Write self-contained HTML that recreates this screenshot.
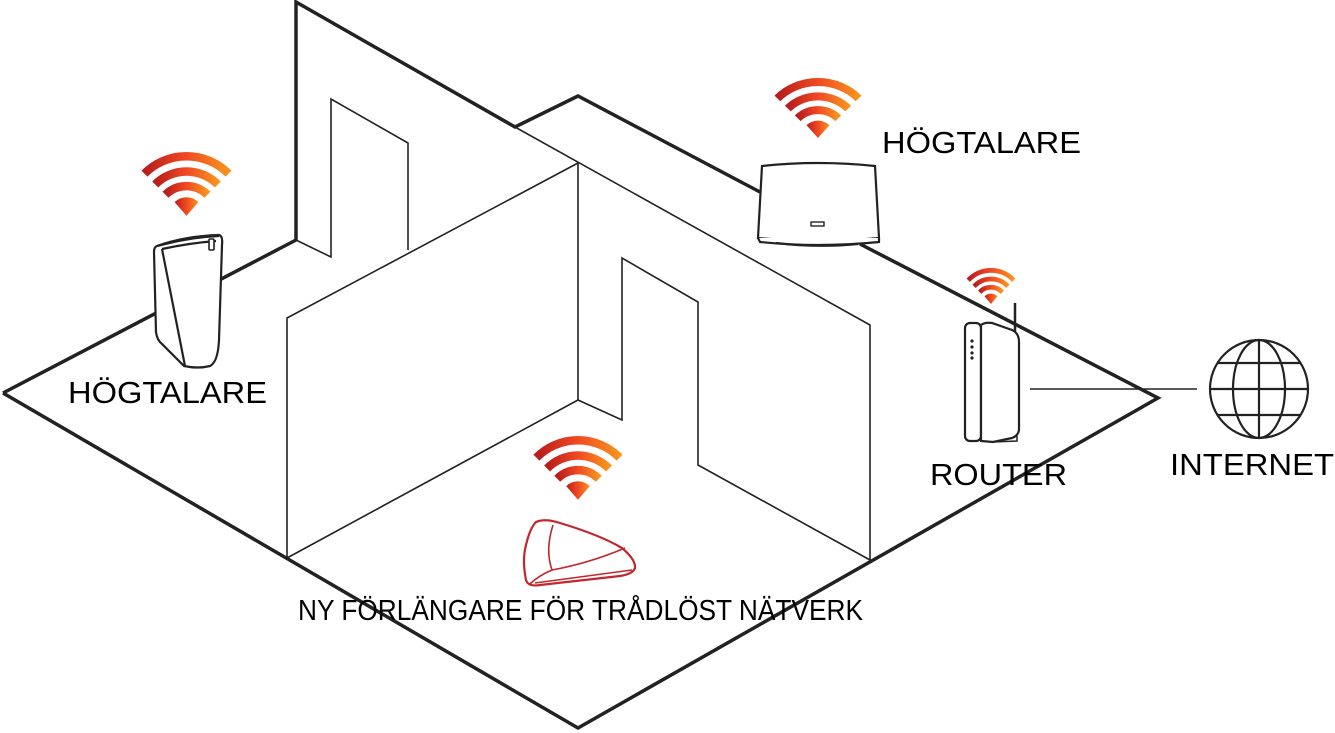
<!DOCTYPE html>
<html><head><meta charset="utf-8"><style>
html,body{margin:0;padding:0;background:#fff;}
svg{display:block;}
text{font-family:"Liberation Sans",sans-serif;fill:#000;}
</style></head><body>
<svg width="1335" height="733" viewBox="0 0 1335 733" xmlns="http://www.w3.org/2000/svg">
<defs>
<linearGradient id="wg" x1="0" y1="0" x2="1" y2="0">
<stop offset="0" stop-color="#b81c1c"/><stop offset="0.5" stop-color="#f04a23"/><stop offset="1" stop-color="#f7941e"/>
</linearGradient>
<g id="wifi">
<path d="M50 75 L36 59 A20 20 0 0 1 64 59 Z" fill="url(#wg)"/>
<path d="M25.3 50.3 A35 35 0 0 1 74.7 50.3" fill="none" stroke="url(#wg)" stroke-width="10"/>
<path d="M13.2 38.2 A52 52 0 0 1 86.8 38.2" fill="none" stroke="url(#wg)" stroke-width="10"/>
<path d="M0.5 25.5 A70 70 0 0 1 99.5 25.5" fill="none" stroke="url(#wg)" stroke-width="10"/>
</g>
</defs>

<!-- thick outlines -->
<g fill="none" stroke="#222" stroke-width="3.5" stroke-linejoin="miter">
<polyline points="3,393 296,240"/>
<polyline points="3,393 578,728 1158,398 860,244"/>
<polyline points="296,240 296,2 515,127 578,96 760,192"/>
</g>
<!-- thin lines -->
<g fill="none" stroke="#222" stroke-width="1.6">
<polyline points="296,240 331,257 331,99 408,143 408,250"/>
<polyline points="515,127 870,325 870,560"/>
<polyline points="287,558 287,318 578,163 578,400 287,558"/>
<polyline points="578,400 622,420 622,258 698,302 698,465 870,560"/>
<line x1="1030" y1="389" x2="1197" y2="389"/>
</g>

<!-- left speaker -->
<g fill="#fff" stroke="#222" stroke-width="2.2">
<path d="M157 246 Q185 236 219 235 Q223 236 222 245 L219 340 Q218 362 210 366 Q198 369 184 366 L162 344 Q157 340 156 332 L154 252 Q154 247 157 246 Z"/>
<path d="M157 246 L165 244 Q193 237 219 236" fill="none"/>
<path d="M162 249 L185 366" fill="none"/>
<path d="M162 249 Q190 243 216 241" fill="none"/>
<rect x="209" y="239" width="5" height="11" rx="1" stroke-width="1.6"/>
</g>

<!-- top speaker -->
<g fill="#fff" stroke="#222" stroke-width="2.2">
<path d="M762 166 Q818 160 875 166 L879 238 Q818 244 758 238 Z"/>
<path d="M758 238 L760 242 Q818 248 879 242 L879 238" />
<path d="M776 243 Q818 248 858 244" fill="none"/>
<rect x="811" y="222" width="13" height="4" stroke-width="1.4"/>
</g>

<!-- router -->
<g fill="#fff" stroke="#222" stroke-width="2.2">
<line x1="1015" y1="303" x2="1015" y2="333" stroke-width="2.5"/>
<rect x="965" y="323" width="16" height="118" rx="5"/>
<path d="M981 325 Q985 322 992 323 L1012 330 Q1019 333 1019 342 L1019 430 Q1018 436 1012 438 L993 442 L981 441 Z"/>
<path d="M993 442 L1017 441 L1017 436" fill="none" stroke-width="1.5"/>
<circle cx="972" cy="341" r="1.6" fill="#222" stroke="none"/>
<circle cx="972" cy="347" r="1.6" fill="#222" stroke="none"/>
<circle cx="972" cy="353" r="1.6" fill="#222" stroke="none"/>
<circle cx="972" cy="358" r="1.6" fill="#222" stroke="none"/>
</g>

<!-- globe -->
<g fill="none" stroke="#222" stroke-width="2.2">
<circle cx="1259" cy="389" r="49"/>
<ellipse cx="1259" cy="389" rx="26" ry="49"/>
<line x1="1259" y1="340" x2="1259" y2="438"/>
<line x1="1210" y1="389" x2="1308" y2="389"/>
<line x1="1217" y1="363" x2="1301" y2="363"/>
<line x1="1217" y1="415" x2="1301" y2="415"/>
</g>

<!-- extender -->
<g fill="#fff" stroke="#c1272d" stroke-width="2.2" stroke-linejoin="round">
<path d="M536 522 Q545 518 560 523 Q600 535 622 548 Q636 560 635 568 Q633 574 620 576 L540 585 Q528 587 526 580 Q522 560 526 545 Q530 528 536 522 Z"/>
<path d="M553 525 Q545 550 552 570 Q590 563 625 548" fill="none" stroke-width="1.6"/>
<path d="M552 570 Q538 576 530 584" fill="none" stroke-width="1.6"/>
<path d="M535 583 L632 570" fill="none" stroke-width="1.4"/>
</g>

<!-- wifi icons -->
<use href="#wifi" transform="translate(144,152) scale(0.85,0.85)"/>
<use href="#wifi" transform="translate(777,78) scale(0.82,0.8)"/>
<use href="#wifi" transform="translate(968,268) scale(0.46,0.48)"/>
<use href="#wifi" transform="translate(536,436) scale(0.84,0.85)"/>

<!-- labels -->
<text x="68" y="403" font-size="31" textLength="199" lengthAdjust="spacingAndGlyphs">HÖGTALARE</text>
<text x="882" y="153" font-size="31" textLength="199" lengthAdjust="spacingAndGlyphs">HÖGTALARE</text>
<text x="930" y="485" font-size="31" textLength="137" lengthAdjust="spacingAndGlyphs">ROUTER</text>
<text x="1170" y="475" font-size="31" textLength="164" lengthAdjust="spacingAndGlyphs">INTERNET</text>
<text x="298" y="620" font-size="29" textLength="565" lengthAdjust="spacingAndGlyphs">NY FÖRLÄNGARE FÖR TRÅDLÖST NÄTVERK</text>
</svg>
</body></html>
